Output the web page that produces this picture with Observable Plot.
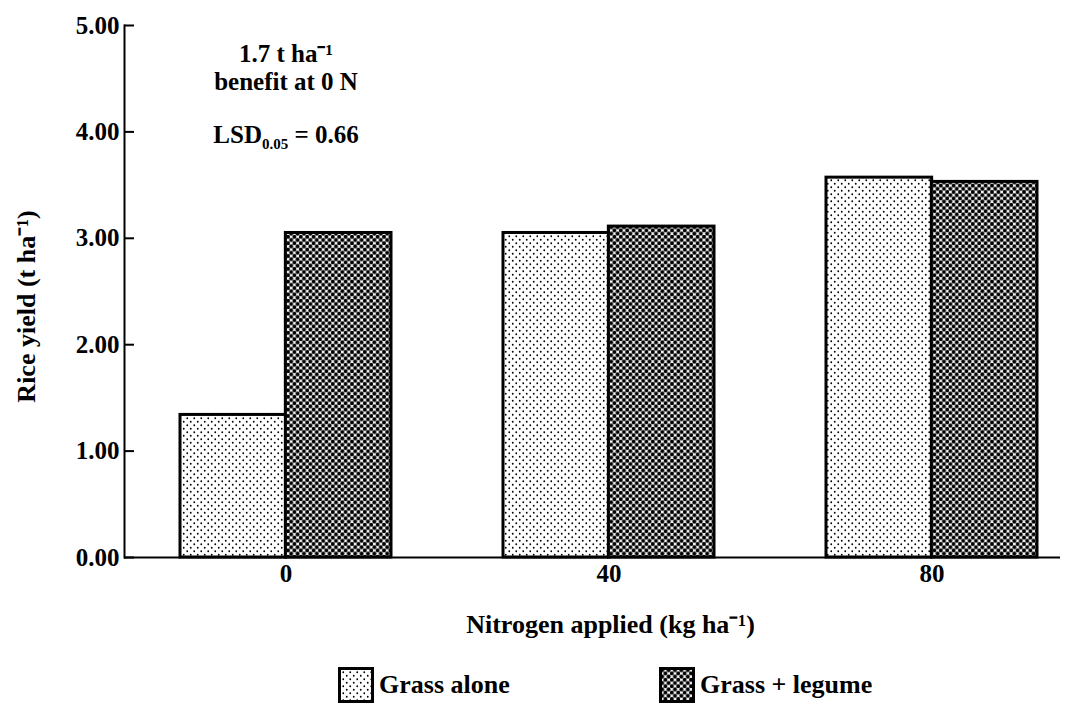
<!DOCTYPE html>
<html><head><meta charset="utf-8">
<script src="https://cdn.jsdelivr.net/npm/d3@7"></script>
<script src="https://cdn.jsdelivr.net/npm/@observablehq/plot@0.6"></script>
<style>
body{margin:0;background:#fff;font-family:"Liberation Serif",serif;color:#000;}
#legend{position:relative;height:71px;font:bold 26px "Liberation Serif",serif;}
.item{position:absolute;top:17px;display:flex;align-items:center;gap:5px;}
</style></head><body><div id="chart"></div><div id="legend"></div>
<script>
const nitrogen = ["0", "40", "80"];
const series = ["Grass alone", "Grass + legume"];
const grassAlone = [1.34, 3.05, 3.57];
const grassLegume = [3.05, 3.11, 3.53];
const yTicks = [0, 1, 2, 3, 4, 5];
const notes = ["1.7 t ha⁻¹", "benefit at 0 N", "LSD0.05 = 0.66"];
const noteY = [4.73, 4.47, 3.97];
const xTitle = "Nitrogen applied (kg ha⁻¹)";
const yTitle = "Rice yield (t ha⁻¹)";
const fills = ["url(#patLight)", "url(#patDark)"];

const rows = nitrogen.flatMap((n, i) => [
  {n, s: series[0], v: grassAlone[i]},
  {n, s: series[1], v: grassLegume[i]}
]);

const xr = [180, 1037], pIn = 0.348;
const half = ((xr[1] - xr[0]) / (nitrogen.length - pIn)) * (1 - pIn) / 2;
const FONT = "Liberation Serif, serif";

const plot = Plot.plot({
  width: 1077, height: 650,
  marginLeft: 124, marginRight: 17, marginTop: 25, marginBottom: 93,
  style: {fontFamily: FONT, fontSize: "26px", color: "black", background: "white"},
  x: {domain: nitrogen, range: xr, paddingInner: pIn, paddingOuter: 0},
  y: {domain: [0, 5]},
  marks: [
    Plot.barY(rows.filter(d => d.s === series[0]), {x: "n", y: "v", fill: fills[0], stroke: "black", strokeWidth: 3, insetRight: half}),
    Plot.barY(rows.filter(d => d.s === series[1]), {x: "n", y: "v", fill: fills[1], stroke: "black", strokeWidth: 3, insetLeft: half}),
    Plot.ruleY([0], {strokeWidth: 2}),
    Plot.frame({anchor: "left", strokeWidth: 2}),
    Plot.axisY({ticks: yTicks, tickSize: -10, tickPadding: 15, strokeWidth: 2, tickFormat: d3.format(".2f"), fontSize: 25, fontWeight: "bold", fill: "black", label: null}),
    Plot.axisX({tickSize: 0, tickPadding: 7, fontSize: 25, fontWeight: "bold", fill: "black", label: null}),
    Plot.text(notes.map((t, i) => ({t, y: noteY[i]})), {x: () => nitrogen[0], y: "y", text: "t", fontSize: 25, fontWeight: "bold", fill: "black"}),
    Plot.text([xTitle], {text: d => d, frameAnchor: "bottom", dy: 75, dx: 18, fontSize: 26, fontWeight: "bold", fill: "black"}),
    Plot.text([yTitle], {text: d => d, frameAnchor: "left", textAnchor: "middle", rotate: -90, dx: -98, dy: 15, fontSize: 26, fontWeight: "bold", fill: "black"})
  ]
});

// pattern definitions
const defs = d3.select(plot).insert("defs", ":first-child");
const pl = defs.append("pattern").attr("id", "patLight").attr("patternUnits", "userSpaceOnUse").attr("width", 7).attr("height", 7);
pl.append("rect").attr("width", 7).attr("height", 7).attr("fill", "white");
pl.append("circle").attr("cx", 1.75).attr("cy", 1.75).attr("r", 0.9).attr("fill", "black");
pl.append("circle").attr("cx", 5.25).attr("cy", 5.25).attr("r", 0.9).attr("fill", "black");
const pd = defs.append("pattern").attr("id", "patDark").attr("patternUnits", "userSpaceOnUse").attr("width", 6.4).attr("height", 6.4);
pd.append("rect").attr("width", 6.4).attr("height", 6.4).attr("fill", "white");
for (const [cx, cy] of [[0,0],[6.4,0],[0,6.4],[6.4,6.4],[3.2,3.2]])
  pd.append("circle").attr("cx", cx).attr("cy", cy).attr("r", 2.0).attr("fill", "black");

// subscript for LSD
d3.select(plot).selectAll("text").filter(function() { return this.textContent === notes[2]; }).each(function() {
  const t = d3.select(this);
  t.text(null);
  t.append("tspan").attr("fill", "black").text("LSD");
  t.append("tspan").attr("fill", "black").attr("font-size", 15).attr("dy", 6).text("0.05");
  t.append("tspan").attr("fill", "black").attr("dy", -6).text(" = 0.66");
});

document.getElementById("chart").append(plot);

// legend
const legend = d3.select("#legend");
const lx = [338, 659];
series.forEach((s, i) => {
  const it = legend.append("div").attr("class", "item").style("left", lx[i] + "px");
  const sv = it.append("svg").attr("width", 36).attr("height", 36);
  sv.append("rect").attr("x", 1.5).attr("y", 1.5).attr("width", 33).attr("height", 33).attr("fill", fills[i]).attr("stroke", "black").attr("stroke-width", 3);
  it.append("span").text(s);
});
</script></body></html>
